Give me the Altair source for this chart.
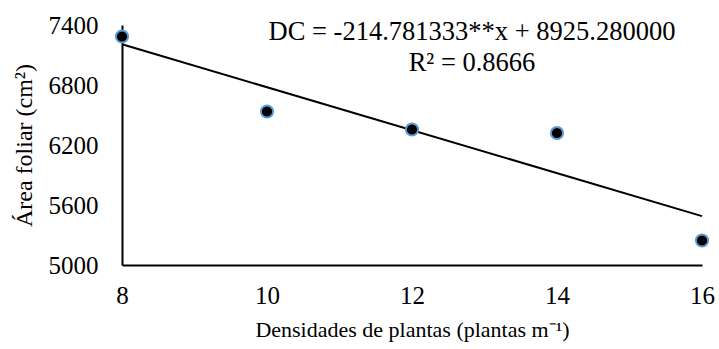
import altair as alt
import pandas as pd

# Plant density (plants per metre) and measured leaf area (cm²)
densidade = [8, 10, 12, 14, 16]
area_foliar = [7285, 6535, 6355, 6320, 5245]

# Fitted linear model
slope = -214.781333
intercept = 8925.280000
r2 = 0.8666

x_ticks = [8, 10, 12, 14, 16]
y_ticks = [5000, 5600, 6200, 6800, 7400]

FONT = "Liberation Serif, Times New Roman, serif"

pts = pd.DataFrame({"x": densidade, "y": area_foliar})
fit = pd.DataFrame({"x": [min(densidade), max(densidade)]})
fit["y"] = intercept + slope * fit["x"]

x_scale = alt.Scale(domain=[8, 16], nice=False, zero=False)
y_scale = alt.Scale(domain=[5000, 7400], nice=False, zero=False)

x_axis = alt.Axis(
    values=x_ticks, format="d", title="Densidades de plantas (plantas m⁻¹)",
    grid=False, ticks=False, domainColor="black", domainWidth=2,
    labelFlush=False, labelOverlap=False,
    labelFont=FONT, labelFontSize=25, labelColor="black", labelPadding=18,
    titleFont=FONT, titleFontSize=22, titleFontWeight="normal", titleColor="black",
    titlePadding=11,
)
y_axis = alt.Axis(
    values=y_ticks, format="d", title="Área foliar (cm²)",
    grid=False, ticks=False, domainColor="black", domainWidth=2,
    labelFlush=False, labelOverlap=False,
    labelFont=FONT, labelFontSize=25, labelColor="black", labelPadding=24,
    titleFont=FONT, titleFontSize=24, titleFontWeight="normal", titleColor="black",
    titlePadding=12,
)

line = alt.Chart(fit).mark_line(color="black", strokeWidth=2).encode(
    x=alt.X("x:Q", scale=x_scale, axis=x_axis),
    y=alt.Y("y:Q", scale=y_scale, axis=y_axis),
)

points = alt.Chart(pts).mark_point(
    filled=True, fill="black", stroke="#5B9BD5", strokeWidth=2, size=150, opacity=1
).encode(
    x=alt.X("x:Q", scale=x_scale),
    y=alt.Y("y:Q", scale=y_scale),
)

eq_lines = [
    f"DC = {slope:.6f}**x + {intercept:.6f}",
    f"R² = {r2:.4f}",
]
eq = alt.Chart(pd.DataFrame({"t": [eq_lines]})).mark_text(
    font=FONT, fontSize=26.5, color="black", align="center", baseline="middle",
    lineHeight=31,
).encode(
    text="t:N",
    x=alt.value(350),
    y=alt.value(7),
)

chart = (line + points + eq).properties(
    width=580, height=240,
    autosize=alt.AutoSizeParams(type="none"),
    padding={"left": 122, "top": 25, "right": 17, "bottom": 84},
).configure_view(stroke=None)

chart.save("out.html", embed_options={"renderer": "svg", "actions": False})
